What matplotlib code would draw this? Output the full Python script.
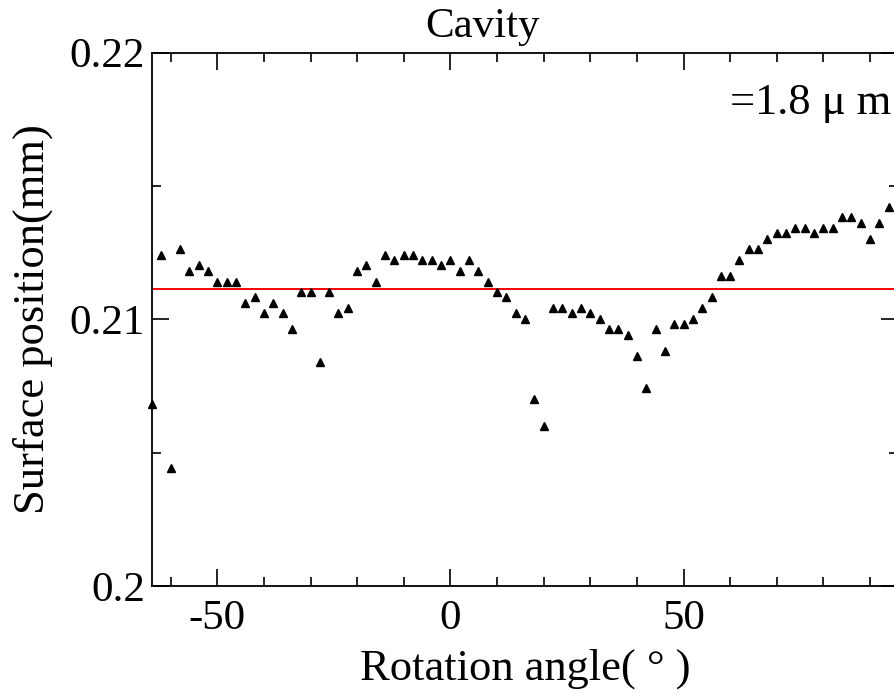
import matplotlib
matplotlib.use("Agg")
import matplotlib.pyplot as plt
from matplotlib.ticker import MultipleLocator, FixedLocator, FixedFormatter

plt.rcParams['font.family'] = ['Liberation Serif', 'DejaVu Serif']

# rotation angle (deg) and measured surface position (mm)
angle = [-64, -62, -60, -58, -56, -54, -52, -50, -48, -46,
         -44, -42, -40, -38, -36, -34, -32, -30, -28, -26,
         -24, -22, -20, -18, -16, -14, -12, -10, -8, -6,
         -4, -2, 0, 2, 4, 6, 8, 10, 12, 14,
         16, 18, 20, 22, 24, 26, 28, 30, 32, 34,
         36, 38, 40, 42, 44, 46, 48, 50, 52, 54,
         56, 58, 60, 62, 64, 66, 68, 70, 72, 74,
         76, 78, 80, 82, 84, 86, 88, 90, 92, 94]
position = [0.20683, 0.21241, 0.20444, 0.21264, 0.21183, 0.21203, 0.21183, 0.21141, 0.21141, 0.21141,
            0.21063, 0.21083, 0.21023, 0.21063, 0.21023, 0.20963, 0.21103, 0.21103, 0.20841, 0.21103,
            0.21023, 0.21043, 0.21183, 0.21203, 0.21141, 0.21241, 0.21223, 0.21241, 0.21241, 0.21223,
            0.21223, 0.21203, 0.21223, 0.21183, 0.21223, 0.21183, 0.21141, 0.21103, 0.21083, 0.21023,
            0.21003, 0.20701, 0.20601, 0.21043, 0.21043, 0.21023, 0.21043, 0.21023, 0.21003, 0.20963,
            0.20963, 0.20943, 0.20863, 0.20742, 0.20963, 0.20883, 0.20983, 0.20983, 0.21003, 0.21043,
            0.21083, 0.21163, 0.21163, 0.21223, 0.21263, 0.21263, 0.21303, 0.21323, 0.21323, 0.21343,
            0.21343, 0.21323, 0.21343, 0.21343, 0.21383, 0.21383, 0.21363, 0.21303, 0.21363, 0.21423]
mean_position = 0.21115

y_ticks = [0.20, 0.21, 0.22]
y_tick_labels = ['0.2', '0.21', '0.22']
x_ticks = [-50, 0, 50]
x_tick_labels = ['-50', '0', '50']

fig = plt.figure(figsize=(8.94, 6.94), dpi=100)
ax = fig.add_axes([0.170, 0.1556, 0.8345, 0.7685])

ax.plot(angle, position, linestyle='none', marker='^', markersize=5.5,
        color='black', clip_on=False, zorder=3)
ax.axhline(mean_position, color='red', linewidth=1.4, zorder=2)

ax.set_xlim(-64, 96)
ax.set_ylim(0.20, 0.22)

ax.xaxis.set_major_locator(FixedLocator(x_ticks))
ax.xaxis.set_major_formatter(FixedFormatter(x_tick_labels))
ax.xaxis.set_minor_locator(MultipleLocator(10))
ax.yaxis.set_major_locator(FixedLocator(y_ticks))
ax.yaxis.set_major_formatter(FixedFormatter(y_tick_labels))
ax.yaxis.set_minor_locator(MultipleLocator(0.005))

ax.tick_params(which='both', direction='in', top=True, right=True, width=1.2)
ax.tick_params(which='major', length=12, labelsize=31)
ax.tick_params(axis='x', which='major', pad=10)
ax.tick_params(axis='y', which='major', pad=5)
ax.tick_params(which='minor', length=6.5)
for s in ax.spines.values():
    s.set_linewidth(1.3)

ax.set_xlabel('Rotation angle( \u00b0 )', fontsize=32, labelpad=7)
ax.set_ylabel('Surface position(mm)', fontsize=32, labelpad=12)

ax.text(60.0, 0.2177, '=1.8 \u03bc m', fontsize=32, ha='left', va='baseline')
fig.text(482 / 894, 1 - 36.7 / 694, 'Cavity', fontsize=31, ha='center', va='baseline')

fig.savefig('out.png', dpi=100)
